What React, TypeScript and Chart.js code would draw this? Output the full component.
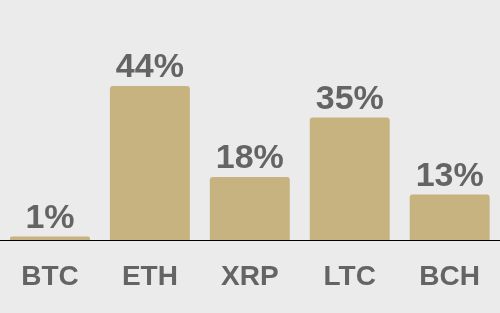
import React, { useEffect, useRef } from "react";
import { Chart, registerables } from "chart.js";

Chart.register(...registerables);

const categories = ["BTC", "ETH", "XRP", "LTC", "BCH"];
const values = [1, 44, 18, 35, 13];
const valueLabels = ["1%", "44%", "18%", "35%", "13%"];

const BG = "#ebebeb";
const BAR = "#c6b37f";
const TEXT = "#646464";
const FONT = "'Liberation Sans', Arial, Helvetica, sans-serif";

const valueLabelPlugin = {
  id: "valueLabels",
  afterDatasetsDraw(chart: any) {
    const ctx = chart.ctx;
    const meta = chart.getDatasetMeta(0);
    ctx.save();
    ctx.fillStyle = TEXT;
    ctx.font = `bold 34px ${FONT}`;
    ctx.textAlign = "center";
    ctx.textBaseline = "alphabetic";
    meta.data.forEach((bar: any, i: number) => {
      ctx.fillText(valueLabels[i], bar.x, bar.y - 9);
    });
    ctx.restore();
  },
};

const bgPlugin = {
  id: "bg",
  beforeDraw(chart: any) {
    const ctx = chart.ctx;
    ctx.save();
    ctx.fillStyle = BG;
    ctx.fillRect(0, 0, chart.width, chart.height);
    ctx.restore();
  },
};

export default function App() {
  const ref = useRef<HTMLCanvasElement>(null);
  useEffect(() => {
    document.body.style.margin = "0";
    document.body.style.background = BG;
    const chart = new Chart(ref.current!, {
      type: "bar",
      data: {
        labels: categories,
        datasets: [
          {
            data: values,
            backgroundColor: BAR,
            borderRadius: { topLeft: 3, topRight: 3, bottomLeft: 0, bottomRight: 0 },
            borderSkipped: "bottom",
            categoryPercentage: 0.8,
            barPercentage: 1,
          },
        ],
      },
      options: {
        responsive: false,
        animation: false,
        devicePixelRatio: 1,
        layout: { padding: 0 },
        plugins: { legend: { display: false }, tooltip: { enabled: false } },
        scales: {
          x: {
            grid: { display: false, drawTicks: false },
            border: { display: true, color: "#000000", width: 1 },
            ticks: {
              color: TEXT,
              font: { family: FONT, size: 28, weight: "bold" },
              padding: 20,
            },
            afterFit: (scale: any) => {
              scale.height = 73;
            },
          },
          y: {
            display: false,
            min: 0,
            max: 240 / 3.5,
          },
        },
      },
      plugins: [bgPlugin, valueLabelPlugin],
    });
    return () => chart.destroy();
  }, []);
  return <canvas ref={ref} width={500} height={313} style={{ display: "block" }} />;
}
